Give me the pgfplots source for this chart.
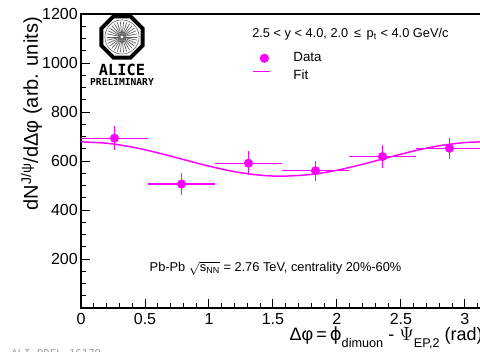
\documentclass[border=0pt]{standalone}
\usepackage{fontspec}
\setmainfont{Liberation Sans}
\newfontfamily\logofont{DejaVu Sans Mono}
\newfontfamily\djv{DejaVu Sans}
\usepackage{pgfplots}
\pgfplotsset{compat=1.18}
\definecolor{alicemag}{RGB}{255,0,255}
\definecolor{logogray}{RGB}{90,90,90}
\pgfplotsset{fitleg/.style={legend image code/.code={\draw[draw=alicemag, line width=1.1pt] (0pt,3.4pt) -- (12.75pt,3.4pt);}}}
\begin{document}
\begin{tikzpicture}
\useasboundingbox (-60.75pt,-33pt) rectangle (299.25pt,231pt);
\clip (-60.75pt,-33pt) rectangle (299.25pt,231pt);
\begin{axis}[
  at={(0pt,0pt)}, anchor=south west,
  scale only axis, width=301.5pt, height=220.5pt,
  xmin=0, xmax=3.14159, ymin=0, ymax=1200,
  xtick={0,0.5,1,1.5,2,2.5,3},
  ytick={200,400,600,800,1000,1200},
  minor xtick={0.1,0.2,...,3.1},
  minor ytick={50,100,...,1150},
  tick align=inside, xtick pos=bottom, ytick pos=left,
  major tick length=6.5pt, minor tick length=3.5pt,
  axis line style={line width=0.8pt},
  every tick/.style={black, line width=0.7pt},
  /pgf/number format/assume math mode=true,
  /pgf/number format/1000 sep={},
  tick label style={font=\fontsize{12}{13}\selectfont},
  xticklabel style={inner sep=1pt, yshift=-2.7pt},
  yticklabel style={inner sep=1pt, xshift=-1.2pt},
  legend style={at={(rel axis cs:0.4254,0.8707)}, anchor=north west,
    draw=none, fill=none, inner sep=0pt, row sep=4.5pt, column sep=17pt,
    font=\fontsize{10}{11}\selectfont,
    nodes={inner sep=0pt, text height=7.2pt, text depth=1.8pt}},
  legend cell align=left,
]
\addplot[only marks, mark=*, mark size=3.2pt, draw=alicemag, fill=alicemag,
  error bars/.cd, x dir=both, x explicit, y dir=both, y explicit,
  error mark=none, error bar style={line width=0.9pt, draw=alicemag}]
  coordinates {
  (0.2618,693) +- (0.2618,49)
  (0.7854,506) +- (0.2618,46)
  (1.3090,591) +- (0.2618,48)
  (1.8326,560) +- (0.2618,42)
  (2.3562,618) +- (0.2618,47)
  (2.8798,652) +- (0.2618,43)
  };
\addlegendentry{Data}
\addplot[draw=alicemag, line width=1.1pt, smooth, fitleg]
  coordinates {
  (0,678) (0.2,672.5) (0.4,656.8) (0.6,633.3) (0.8,606) (1.0,578.9)
  (1.2,556.4) (1.4,542) (1.5708,538) (1.8,545.2) (2.0,562.2)
  (2.2,586.5) (2.4,614.1) (2.6,640.8) (2.8,662.3) (3.0,675.2) (3.14159,678)
  };
\addlegendentry{Fit}
\end{axis}
% header and annotations
\node[anchor=base west, font=\fontsize{9.6}{11}\selectfont, inner sep=0pt]
  at (128.25pt,202.5pt) {2.5 < y < 4.0, 2.0 \,≤\, p\textsubscript{t} < 4.0 GeV/c};
\node[anchor=base, font=\fontsize{9.6}{11}\selectfont, inner sep=0pt]
  at (145.9pt,27pt) {Pb-Pb $\sqrt{\mathrm{s}_{\mathrm{NN}}}$ = 2.76 TeV, centrality 20\%-60\%};
% axis titles
\node[rotate=90, anchor=base east, font=\fontsize{15}{17}\selectfont, inner sep=0pt]
  at (-32.25pt,218.25pt) {dN\textsuperscript{J/ψ}/dΔφ (arb. units)};
\node[anchor=base east, font=\fontsize{13.5}{15}\selectfont, inner sep=0pt]
  at (301.5pt,-24.5pt) {Δφ\,=\,{\djv ϕ}\raisebox{-5pt}{\fontsize{9.5}{10}\selectfont dimuon} - $\Psi$\raisebox{-5pt}{\fontsize{9.5}{10}\selectfont EP,2} (rad)};
% ALICE logo
\begin{scope}[shift={(30.75pt,203.25pt)}]
  \draw[line width=3pt, black] (22.5:16.7pt) -- (67.5:16.7pt) -- (112.5:16.7pt) -- (157.5:16.7pt)
    -- (202.5:16.7pt) -- (247.5:16.7pt) -- (292.5:16.7pt) -- (337.5:16.7pt) -- cycle;
  \draw[logogray, line width=0.4pt] (0,0) circle (12.8pt);
  \foreach \a in {0,12,...,348} {
    \draw[logogray, line width=0.5pt] (\a:1.2pt) -- (\a:11.5pt);
  }
\end{scope}
\node[anchor=base, font=\logofont\bfseries\fontsize{11.5}{12}\selectfont, inner sep=0pt]
  at (30.75pt,174pt) {ALICE};
\node[anchor=base, font=\logofont\bfseries\fontsize{7.2}{8}\selectfont, inner sep=0pt]
  at (30.75pt,166.5pt) {PRELIMINARY};
\node[anchor=north west, font=\logofont\fontsize{8}{9}\selectfont, text=gray!80, inner sep=0pt]
  at (-52.5pt,-30.75pt) {ALI-PREL-16179};
\end{tikzpicture}
\end{document}
